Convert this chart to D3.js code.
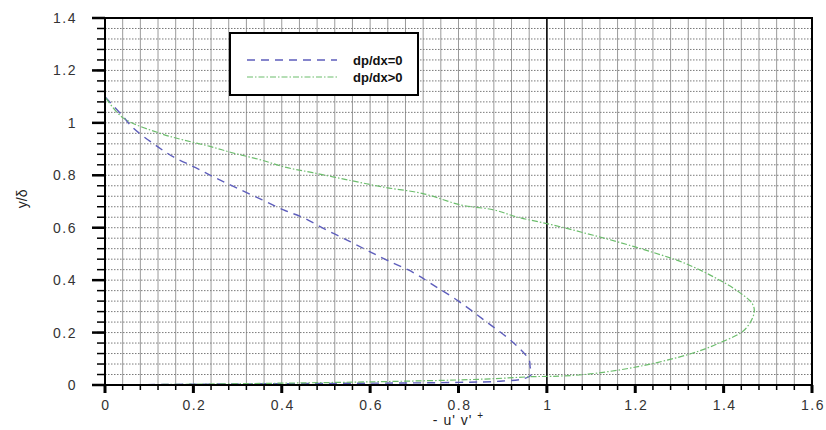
<!DOCTYPE html>
<html>
<head>
<meta charset="utf-8">
<script src="https://cdn.jsdelivr.net/npm/d3@7"></script>
<style>
  html, body { margin: 0; padding: 0; background: #fff; }
  svg { display: block; font-family: "Liberation Sans", Arial, sans-serif; }
</style>
</head>
<body>
<svg id="chart" width="826" height="430"></svg>
<script>
// ---- data ----
const xTicks = [0, 0.2, 0.4, 0.6, 0.8, 1, 1.2, 1.4, 1.6];
const yTicks = [0, 0.2, 0.4, 0.6, 0.8, 1, 1.2, 1.4];
const seriesNames = ["dp/dx=0", "dp/dx>0"];

const zeroX = [0, 0.2, 0.5, 0.8, 0.9, 0.95, 0.965, 0.962, 0.96, 0.925, 0.86, 0.8, 0.744, 0.70, 0.646, 0.60, 0.556, 0.503, 0.45, 0.404, 0.356, 0.30, 0.25, 0.204, 0.155, 0.11, 0.064, 0.038, 0.005, 0];
const zeroY = [0, 0.003, 0.006, 0.01, 0.015, 0.025, 0.04, 0.07, 0.095, 0.16, 0.245, 0.32, 0.38, 0.427, 0.47, 0.508, 0.546, 0.59, 0.637, 0.668, 0.706, 0.75, 0.79, 0.83, 0.87, 0.92, 0.98, 1.03, 1.09, 1.1];

const posX = [0, 0.3, 0.6, 0.85, 0.97, 1.01, 1.085, 1.206, 1.327, 1.39, 1.447, 1.469, 1.465, 1.43, 1.38, 1.31, 1.236, 1.16, 1.085, 1.01, 0.934, 0.88, 0.805, 0.72, 0.63, 0.556, 0.47, 0.41, 0.35, 0.29, 0.238, 0.177, 0.125, 0.04, 0];
const posY = [0, 0.005, 0.012, 0.022, 0.032, 0.033, 0.04, 0.07, 0.12, 0.16, 0.21, 0.275, 0.31, 0.36, 0.41, 0.466, 0.508, 0.546, 0.58, 0.612, 0.64, 0.668, 0.687, 0.73, 0.755, 0.78, 0.81, 0.83, 0.86, 0.885, 0.91, 0.935, 0.96, 1.02, 1.1];

// ---- layout ----
const svg = d3.select("#chart");
const M = { left: 105, right: 14, top: 18, bottom: 45 };
const W = 826 - M.left - M.right;
const H = 430 - M.top - M.bottom;
const x = d3.scaleLinear().domain([0, 1.6]).range([M.left, M.left + W]);
const y = d3.scaleLinear().domain([0, 1.4]).range([M.top + H, M.top]);

const minorX = d3.range(0, 41).map(i => +(i * 0.04).toFixed(2));
const minorY = d3.range(0, 36).map(i => +(i * 0.04).toFixed(2));

// grid: vertical solid
svg.append("g").selectAll("line").data(minorX).join("line")
  .attr("x1", d => x(d)).attr("x2", d => x(d))
  .attr("y1", y(1.4)).attr("y2", y(0))
  .attr("stroke", "#9a9a9a").attr("stroke-width", 1);
// grid: horizontal dotted
svg.append("g").selectAll("line").data(minorY).join("line")
  .attr("x1", x(0)).attr("x2", x(1.6))
  .attr("y1", d => y(d)).attr("y2", d => y(d))
  .attr("stroke", "#7a7a7a").attr("stroke-width", 1)
  .attr("stroke-dasharray", "1.5,1.5");

// line at x = 1
svg.append("line").attr("x1", x(1)).attr("x2", x(1)).attr("y1", y(1.4)).attr("y2", y(0))
  .attr("stroke", "#000").attr("stroke-width", 1.5);

// curves
const line = d3.line().x(d => x(d[0])).y(d => y(d[1])).curve(d3.curveCatmullRom.alpha(0.5));
const styles = [
  { color: "#5e5ebc", dash: "8,6", w: 1.4 },
  { color: "#6cbd6c", dash: "6,2,1.5,2", w: 1.2 }
];
svg.append("path").datum(zeroX.map((v, i) => [v, zeroY[i]]))
  .attr("d", line).attr("fill", "none")
  .attr("stroke", styles[0].color).attr("stroke-width", styles[0].w)
  .attr("stroke-dasharray", styles[0].dash);
svg.append("path").datum(posX.map((v, i) => [v, posY[i]]))
  .attr("d", line).attr("fill", "none")
  .attr("stroke", styles[1].color).attr("stroke-width", styles[1].w)
  .attr("stroke-dasharray", styles[1].dash);

// frame
svg.append("rect").attr("x", x(0)).attr("y", y(1.4)).attr("width", W).attr("height", H)
  .attr("fill", "none").attr("stroke", "#000").attr("stroke-width", 2);

// ticks as filled rects
svg.append("g").selectAll("rect").data(minorX).join("rect")
  .attr("x", d => x(d) - 0.75).attr("y", y(0)).attr("width", 1.5).attr("height", 5).attr("fill", "#000");
svg.append("g").selectAll("rect").data(xTicks).join("rect")
  .attr("x", d => x(d) - 1.5).attr("y", y(0)).attr("width", 3).attr("height", 8).attr("fill", "#000");
svg.append("g").selectAll("rect").data(minorY).join("rect")
  .attr("x", x(0) - 8).attr("y", d => y(d) - 0.75).attr("width", 8).attr("height", 1.5).attr("fill", "#000");
svg.append("g").selectAll("rect").data(yTicks).join("rect")
  .attr("x", x(0) - 13).attr("y", d => y(d) - 1.25).attr("width", 13).attr("height", 2.5).attr("fill", "#000");

const fmt = d3.format("~g");
svg.append("g").selectAll("text").data(xTicks).join("text")
  .attr("x", d => x(d) + 1).attr("y", y(0) + 25)
  .attr("text-anchor", "middle").attr("font-size", 14).attr("letter-spacing", 1.5)
  .attr("fill", "#333").text(fmt);
svg.append("g").selectAll("text").data(yTicks).join("text")
  .attr("x", x(0) - 28).attr("y", d => y(d) + 5)
  .attr("text-anchor", "end").attr("font-size", 14).attr("letter-spacing", 1.5)
  .attr("fill", "#333").text(fmt);

// axis titles
svg.append("text").attr("x", x(0.8)).attr("y", 425)
  .attr("text-anchor", "middle").attr("font-size", 14).attr("fill", "#222")
  .attr("letter-spacing", 1)
  .text("- u' v' ").append("tspan").attr("dy", -6).attr("font-size", 10).text("+");
svg.append("text").attr("transform", `translate(27,${y(0.71)}) rotate(-90)`)
  .attr("text-anchor", "middle").attr("font-size", 14).attr("fill", "#222")
  .text("y/δ");

// legend
const lg = svg.append("g");
lg.append("rect").attr("x", 230).attr("y", 33).attr("width", 188).attr("height", 62)
  .attr("fill", "#fff").attr("stroke", "#000").attr("stroke-width", 2);
seriesNames.forEach((name, i) => {
  const yy = 60 + i * 17;
  lg.append("line").attr("x1", 247).attr("x2", 337).attr("y1", yy).attr("y2", yy)
    .attr("stroke", styles[i].color).attr("stroke-width", styles[i].w)
    .attr("stroke-dasharray", styles[i].dash);
  lg.append("text").attr("x", 353).attr("y", yy + 5).attr("font-size", 13)
    .attr("font-weight", "bold").attr("fill", "#111").text(name);
});
</script>
</body>
</html>
